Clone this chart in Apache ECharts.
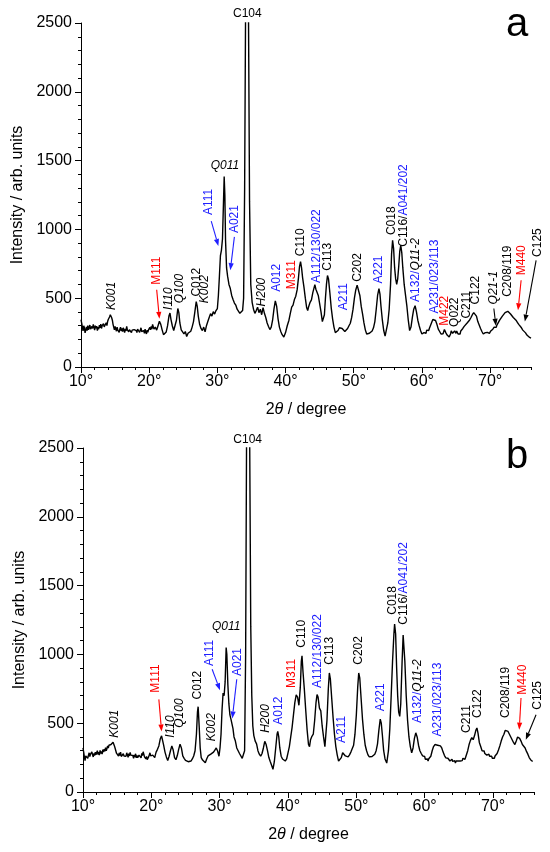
<!DOCTYPE html>
<html>
<head>
<meta charset="utf-8">
<title>XRD patterns a / b</title>
<script src="https://cdn.jsdelivr.net/npm/echarts@6/dist/echarts.min.js"></script>
<style>
  html, body { margin: 0; padding: 0; background: #fff; }
  #chart { width: 550px; height: 852px; }
</style>
</head>
<body>
<div id="chart"></div>
<script>
const FONT = '"Liberation Sans", Arial, Helvetica, sans-serif';
const BLUE = '#2020ff';
const RED = '#ff0000';

// x tick labels (2θ, degrees)
const xTicks = [10, 20, 30, 40, 50, 60, 70];

// pattern a: [2θ, intensity]
const scanA = [
  [10.0,345],[10.1,318],[10.2,290],[10.3,262],[10.4,300],[10.5,285],[10.6,248],[10.7,270],[10.8,292],[10.9,265],
  [11.0,300],[11.1,270],[11.2,285],[11.3,305],[11.4,275],[11.5,262],[11.6,295],[11.7,280],[11.8,310],[11.9,290],
  [12.0,268],[12.1,300],[12.2,282],[12.3,298],[12.4,265],[12.5,290],[12.6,275],[12.7,305],[12.8,285],[12.9,312],
  [13.0,280],[13.1,300],[13.2,288],[13.3,315],[13.4,292],[13.5,305],[13.6,285],[13.7,322],[13.8,300],[13.9,330],
  [14.0,345],[14.1,352],[14.2,365],[14.3,380],[14.4,372],[14.5,358],[14.6,340],[14.7,310],[14.8,290],[14.9,270],
  [15.0,295],[15.1,282],[15.2,260],[15.3,290],[15.4,268],[15.5,280],[15.6,252],[15.7,275],[15.8,290],[15.9,262],
  [16.0,280],[16.1,258],[16.2,285],[16.3,268],[16.4,250],[16.5,278],[16.6,262],[16.7,295],[16.8,270],[16.9,282],
  [17.0,255],[17.1,272],[17.2,260],[17.3,285],[17.4,250],[17.5,268],[17.6,278],[17.7,255],[17.8,272],[17.9,260],
  [18.0,285],[18.1,265],[18.2,250],[18.3,275],[18.4,262],[18.5,280],[18.6,252],[18.7,268],[18.8,285],[18.9,258],
  [19.0,272],[19.1,250],[19.2,265],[19.3,245],[19.4,275],[19.5,255],[19.6,240],[19.7,268],[19.8,252],[19.9,270],
  [20.0,260],[20.1,288],[20.2,270],[20.3,295],[20.4,275],[20.5,310],[20.7,275],[20.9,290],[21.1,268],[21.3,300],
  [21.5,332],[21.7,310],[21.9,270],[22.1,235],[22.3,222],[22.5,255],[22.7,300],[22.9,370],[23.05,392],[23.2,345],
  [23.4,298],[23.6,265],[23.8,275],[24.0,340],[24.2,425],[24.35,395],[24.5,320],[24.7,270],[24.9,255],[25.1,240],
  [25.3,258],[25.5,222],[25.7,245],[25.9,232],[26.1,260],[26.3,290],[26.5,330],[26.7,400],[26.9,475],[27.05,440],
  [27.2,370],[27.4,310],[27.6,280],[27.8,265],[28.0,290],[28.2,255],[28.4,300],[28.6,330],[28.8,360],[29.0,388],
  [29.2,370],[29.4,402],[29.6,385],[29.8,410],[30.0,425],[30.15,520],[30.3,660],[30.45,810],[30.6,850],[30.75,930],
  [30.9,1200],[31.0,1385],[31.1,1250],[31.2,920],[31.35,720],[31.5,660],[31.7,600],[31.9,570],[32.1,520],[32.3,490],
  [32.5,465],[32.7,450],[32.9,420],[33.1,412],[33.3,390],[33.5,378],[33.7,410],[33.85,500],[34.0,1300],[34.15,2700],
  [34.35,5200],[34.55,2700],[34.72,1200],[34.9,600],[35.1,470],[35.3,420],[35.5,390],[35.7,410],[35.9,435],[36.1,395],
  [36.3,420],[36.5,380],[36.7,432],[36.9,390],[37.1,360],[37.3,320],[37.5,295],[37.7,272],[37.9,290],[38.1,340],
  [38.3,420],[38.5,480],[38.7,440],[38.9,350],[39.1,290],[39.3,258],[39.5,235],[39.75,218],[40.0,250],[40.25,300],
  [40.5,340],[40.7,390],[40.9,435],[41.1,450],[41.3,490],[41.5,515],[41.7,560],[41.9,650],[42.05,730],[42.2,765],
  [42.35,720],[42.5,650],[42.7,580],[42.9,500],[43.1,430],[43.25,410],[43.4,440],[43.6,470],[43.8,488],[44.0,540],
  [44.15,570],[44.3,598],[44.45,565],[44.6,560],[44.8,520],[45.0,460],[45.2,400],[45.4,330],[45.55,318],[45.7,380],
  [45.85,500],[46.0,600],[46.15,665],[46.3,640],[46.5,540],[46.7,430],[46.9,350],[47.1,290],[47.3,250],[47.5,240],
  [47.7,265],[47.9,285],[48.1,295],[48.3,280],[48.5,270],[48.7,258],[48.9,262],[49.1,280],[49.3,300],[49.5,318],
  [49.7,360],[49.9,420],[50.1,500],[50.3,560],[50.5,595],[50.7,585],[50.9,520],[51.1,440],[51.3,385],[51.5,320],
  [51.7,270],[51.9,240],[52.1,232],[52.3,245],[52.5,250],[52.7,262],[52.9,285],[53.1,330],[53.3,420],[53.5,520],
  [53.7,570],[53.85,530],[54.0,440],[54.2,340],[54.4,265],[54.6,225],[54.8,235],[55.0,320],[55.2,420],[55.4,600],
  [55.55,820],[55.7,920],[55.85,860],[56.0,720],[56.15,640],[56.3,600],[56.45,640],[56.6,730],[56.75,840],[56.9,885],
  [57.05,830],[57.2,720],[57.4,600],[57.6,520],[57.8,440],[58.0,340],[58.2,265],[58.4,290],[58.6,360],[58.8,420],
  [59.0,445],[59.2,400],[59.4,340],[59.6,300],[59.8,265],[60.0,240],[60.1,252],[60.2,232],[60.3,250],[60.4,238],
  [60.5,258],[60.6,245],[60.7,268],[60.8,255],[60.9,275],[61.0,265],[61.1,282],[61.2,290],[61.4,320],[61.6,345],
  [61.8,355],[62.0,338],[62.2,310],[62.4,275],[62.5,285],[62.6,258],[62.7,250],[62.8,240],[62.9,245],[63.0,228],
  [63.1,242],[63.2,250],[63.3,272],[63.4,265],[63.5,250],[63.6,245],[63.7,232],[63.8,225],[63.9,235],[64.0,218],
  [64.1,232],[64.2,240],[64.3,262],[64.4,250],[64.5,245],[64.6,258],[64.7,240],[64.8,262],[64.9,250],[65.0,245],
  [65.1,262],[65.2,252],[65.3,240],[65.4,232],[65.5,248],[65.6,240],[65.7,262],[65.8,255],[65.9,272],[66.0,280],
  [66.2,295],[66.4,288],[66.6,318],[66.8,330],[67.0,342],[67.2,360],[67.4,380],[67.6,395],[67.8,402],[68.0,370],
  [68.2,330],[68.4,305],[68.6,280],[68.8,258],[68.9,268],[69.0,240],[69.1,252],[69.2,232],[69.3,250],[69.4,245],
  [69.5,238],[69.6,252],[69.7,240],[69.8,256],[69.9,245],[70.0,242],[70.1,262],[70.2,255],[70.3,272],[70.4,275],
  [70.5,262],[70.6,290],[70.7,280],[70.8,295],[70.9,288],[71.0,305],[71.2,318],[71.4,340],[71.6,352],[71.8,370],
  [72.0,382],[72.2,395],[72.4,400],[72.6,405],[72.8,395],[73.0,385],[73.2,372],[73.4,360],[73.6,352],[73.8,340],
  [74.0,325],[74.2,310],[74.4,300],[74.6,285],[74.8,268],[75.0,255],[75.2,248],[75.4,232],[75.6,222],[75.8,215],
  [76.0,210]
];

// pattern b: [2θ, intensity]
const scanB = [
  [10.0,320],[10.1,290],[10.2,255],[10.3,228],[10.4,262],[10.5,250],[10.6,275],[10.7,245],[10.8,268],[10.9,285],
  [11.0,258],[11.1,275],[11.2,262],[11.3,292],[11.4,270],[11.5,255],[11.6,280],[11.7,265],[11.8,290],[11.9,270],
  [12.0,285],[12.1,300],[12.2,272],[12.3,290],[12.4,268],[12.5,302],[12.6,280],[12.7,295],[12.8,275],[12.9,308],
  [13.0,290],[13.1,312],[13.2,295],[13.3,322],[13.4,300],[13.5,315],[13.6,335],[13.7,320],[13.8,340],[13.9,328],
  [14.0,350],[14.1,345],[14.2,358],[14.3,352],[14.4,362],[14.5,355],[14.6,335],[14.7,318],[14.8,300],[14.9,282],
  [15.0,295],[15.1,272],[15.2,260],[15.3,285],[15.4,265],[15.5,290],[15.6,258],[15.7,272],[15.8,250],[15.9,278],
  [16.0,262],[16.1,248],[16.2,272],[16.3,260],[16.4,285],[16.5,270],[16.6,252],[16.7,278],[16.8,262],[16.9,288],
  [17.0,268],[17.1,255],[17.2,282],[17.3,265],[17.4,245],[17.5,270],[17.6,255],[17.7,278],[17.8,248],[17.9,265],
  [18.0,250],[18.1,240],[18.2,268],[18.3,255],[18.4,272],[18.5,248],[18.6,280],[18.7,265],[18.8,292],[18.9,275],
  [19.0,255],[19.1,268],[19.2,240],[19.3,258],[19.4,235],[19.5,225],[19.6,255],[19.7,270],[19.8,285],[19.9,262],
  [20.0,275],[20.1,250],[20.2,268],[20.3,255],[20.4,278],[20.5,250],[20.6,272],[20.7,290],[20.8,300],[20.9,310],
  [21.1,335],[21.3,385],[21.5,408],[21.65,395],[21.8,340],[22.0,290],[22.2,255],[22.4,228],[22.6,260],[22.8,300],
  [23.0,335],[23.2,305],[23.4,250],[23.6,235],[23.8,265],[24.0,310],[24.2,348],[24.4,320],[24.6,262],[24.8,245],
  [25.0,230],[25.2,238],[25.4,220],[25.6,212],[25.8,225],[26.0,240],[26.2,262],[26.4,300],[26.6,420],[26.75,580],
  [26.85,620],[27.0,480],[27.15,320],[27.3,250],[27.5,232],[27.7,225],[27.9,212],[28.1,240],[28.3,262],[28.5,255],
  [28.7,275],[28.9,268],[29.1,290],[29.3,305],[29.5,320],[29.7,298],[29.9,260],[30.05,320],[30.2,420],[30.35,600],
  [30.5,720],[30.65,700],[30.8,800],[30.95,1050],[31.05,1000],[31.2,780],[31.35,640],[31.5,560],[31.65,530],[31.8,520],
  [31.95,460],[32.1,400],[32.3,370],[32.5,320],[32.7,300],[32.9,280],[33.1,270],[33.3,245],[33.5,235],[33.65,300],
  [33.8,1000],[33.93,2500],[34.17,5500],[34.4,2500],[34.55,1200],[34.7,700],[34.85,480],[35.0,410],[35.2,370],[35.4,350],
  [35.6,300],[35.8,275],[36.0,260],[36.2,280],[36.4,320],[36.6,368],[36.8,345],[37.0,300],[37.2,250],[37.4,222],
  [37.6,195],[37.8,165],[38.0,220],[38.2,320],[38.4,420],[38.5,440],[38.65,400],[38.8,320],[39.0,260],[39.2,240],
  [39.4,250],[39.6,225],[39.8,240],[40.0,285],[40.2,330],[40.4,400],[40.6,470],[40.8,560],[41.0,650],[41.2,705],
  [41.4,690],[41.6,630],[41.8,760],[41.95,950],[42.05,990],[42.2,870],[42.4,740],[42.6,590],[42.8,450],[43.0,345],
  [43.15,330],[43.3,380],[43.5,405],[43.7,420],[43.9,520],[44.1,650],[44.25,708],[44.4,690],[44.6,610],[44.8,590],
  [45.0,480],[45.2,400],[45.4,330],[45.5,320],[45.7,520],[45.9,750],[46.05,865],[46.2,820],[46.4,680],[46.6,540],
  [46.8,420],[47.0,330],[47.2,270],[47.4,225],[47.6,215],[47.8,250],[48.0,285],[48.2,275],[48.4,262],[48.6,272],
  [48.8,255],[49.0,270],[49.2,290],[49.4,300],[49.6,340],[49.8,420],[50.0,560],[50.2,760],[50.35,865],[50.5,830],
  [50.7,680],[50.9,530],[51.1,420],[51.3,340],[51.5,300],[51.7,270],[51.9,255],[52.1,245],[52.3,258],[52.5,265],
  [52.7,275],[52.9,300],[53.1,350],[53.3,450],[53.5,530],[53.65,500],[53.8,420],[54.0,300],[54.2,240],[54.45,210],
  [54.7,300],[54.9,460],[55.1,700],[55.3,950],[55.5,1150],[55.6,1220],[55.75,1150],[55.9,900],[56.05,700],[56.2,580],
  [56.35,550],[56.5,640],[56.7,950],[56.85,1140],[56.95,1150],[57.1,950],[57.3,700],[57.5,520],[57.7,400],[57.9,330],
  [58.1,285],[58.3,320],[58.5,390],[58.7,430],[58.9,400],[59.1,340],[59.3,300],[59.5,280],[59.7,262],[59.9,250],
  [60.0,258],[60.1,238],[60.2,245],[60.3,232],[60.4,240],[60.5,225],[60.6,242],[60.7,235],[60.8,250],[60.9,260],
  [61.1,300],[61.3,330],[61.5,345],[61.7,358],[61.9,340],[62.1,350],[62.3,335],[62.5,320],[62.7,290],[62.9,265],
  [63.0,255],[63.1,248],[63.2,258],[63.3,240],[63.4,245],[63.5,232],[63.6,240],[63.7,225],[63.8,238],[63.9,230],
  [64.0,238],[64.1,222],[64.2,230],[64.3,215],[64.4,228],[64.5,210],[64.6,225],[64.7,218],[64.8,232],[64.9,225],
  [65.0,238],[65.1,232],[65.2,225],[65.3,222],[65.4,235],[65.5,228],[65.6,245],[65.7,240],[65.8,232],[65.9,238],
  [66.0,250],[66.1,245],[66.3,300],[66.5,345],[66.7,375],[66.9,395],[67.1,380],[67.3,410],[67.5,450],[67.65,465],
  [67.8,430],[68.0,360],[68.2,330],[68.4,300],[68.5,305],[68.6,290],[68.7,298],[68.8,280],[68.9,292],[69.0,285],
  [69.1,268],[69.2,272],[69.3,282],[69.4,275],[69.5,260],[69.6,265],[69.7,255],[69.8,260],[69.9,245],[70.0,250],
  [70.1,258],[70.2,245],[70.3,262],[70.4,255],[70.6,280],[70.8,305],[71.0,335],[71.2,370],[71.4,400],[71.6,420],
  [71.8,448],[72.0,455],[72.2,440],[72.4,420],[72.6,400],[72.8,380],[73.0,360],[73.2,345],[73.4,370],[73.6,400],
  [73.75,410],[73.9,390],[74.1,370],[74.3,345],[74.5,340],[74.7,320],[74.9,295],[75.1,275],[75.3,250],[75.5,235],
  [75.7,228],[75.8,222]
];

// peak labels, vertical text: [label, 2θ, intensity at foot of label]
// {k|} black, {i|} black italic, {b|} blue, {r|} red
const peaksA = [
  ['{i|K001}', 14.5, 415], ['{r|M111}', 21.1, 598], ['{i|I110}', 22.85, 415], ['{i|Q100}', 24.4, 464],
  ['{k|C012}', 26.9, 512], ['{i|K002}', 28.1, 464], ['{b|A111}', 28.8, 1104], ['{b|A021}', 32.5, 973],
  ['{i|H200}', 36.5, 440], ['{b|A012}', 38.65, 546], ['{r|M311}', 40.85, 565], ['{k|C110}', 42.2, 805],
  ['{b|A112/130/022}', 44.55, 610], ['{k|C113}', 46.2, 700], ['{b|A211}', 48.5, 413], ['{k|C202}', 50.6, 619],
  ['{b|A221}', 53.7, 607], ['{k|C018}', 55.5, 959], ['{k|C116/}{b|A041/202}', 57.3, 874],
  ['{b|A132/}{i|Q11-2}', 59.05, 473], ['{b|A231/023/113}', 61.85, 389], ['{r|M422}', 63.35, 300],
  ['{k|Q022}', 64.85, 291], ['{k|C211}', 66.6, 352], ['{k|C122}', 67.95, 455], ['{i|Q21-1}', 70.45, 455],
  ['{k|C208/119}', 72.6, 510], ['{r|M440}', 74.65, 667], ['{k|C125}', 77.0, 800]
];
const peaksB = [
  ['{i|K001}', 14.6, 394], ['{r|M111}', 20.7, 722], ['{i|I110}', 22.8, 394], ['{i|Q100}', 24.15, 467],
  ['{k|C012}', 26.8, 673], ['{i|K002}', 28.9, 369], ['{b|A111}', 28.5, 916], ['{b|A021}', 32.7, 843],
  ['{i|H200}', 36.7, 430], ['{b|A012}', 38.65, 489], ['{r|M311}', 40.5, 756], ['{k|C110}', 42.0, 1049],
  ['{b|A112/130/022}', 44.35, 756], ['{k|C113}', 46.1, 925], ['{b|A211}', 47.9, 356], ['{k|C202}', 50.35, 925],
  ['{b|A221}', 53.6, 586], ['{k|C018}', 55.3, 1288], ['{k|C116/}{b|A041/202}', 57.0, 1216],
  ['{b|A132/}{i|Q11-2}', 58.98, 501], ['{b|A231/023/113}', 61.9, 404], ['{k|C211}', 66.1, 429],
  ['{k|C122}', 67.75, 538], ['{k|C208/119}', 71.9, 538], ['{r|M440}', 74.3, 707], ['{k|C125}', 76.5, 598]
];

// horizontal labels: [label, 2θ, intensity at text centre]
const topA = [['{k|C104}', 34.4, 2568], ['{i|Q011}', 31.1, 1463]];
const topB = [['{k|C104}', 34.1, 2560], ['{i|Q011}', 30.96, 1203]];

// arrows: [from 2θ, from I, to 2θ, to I, colour]
const arrowsA = [
  [21.1, 561, 21.5, 350, RED], [29.1, 1060, 30.15, 880, BLUE], [32.5, 946, 31.9, 704, BLUE],
  [70.55, 425, 70.85, 300, '#000'], [74.55, 630, 74.1, 413, RED], [76.75, 775, 75.1, 330, '#000']
];
const arrowsB = [
  [21.1, 673, 21.5, 440, RED], [28.9, 892, 30.05, 740, BLUE], [32.5, 819, 31.85, 535, BLUE],
  [74.1, 683, 73.84, 453, RED], [76.3, 562, 74.8, 380, '#000']
];

const RICH = {
  k: { fill: '#000', fontSize: 12, fontFamily: FONT },
  i: { fill: '#000', fontSize: 12, fontFamily: FONT, fontStyle: 'italic' },
  b: { fill: BLUE, fontSize: 12, fontFamily: FONT },
  r: { fill: RED, fontSize: 12, fontFamily: FONT }
};

const grids = [
  { left: 81, top: 23, width: 450, height: 344 },
  { left: 83, top: 448, width: 451, height: 344 }
];
const scans = [scanA, scanB];

const chart = echarts.init(document.getElementById('chart'), null, { renderer: 'canvas' });

const xAxis = [];
const yAxis = [];
const series = [];
grids.forEach((g, i) => {
  // minor ticks every 2° and the labels
  xAxis.push({
    gridIndex: i, type: 'value', min: 10, max: 76, interval: 2, position: 'bottom',
    axisLine: { show: true, onZero: false, lineStyle: { color: '#000', width: 1 } },
    axisTick: { show: true, length: 3, lineStyle: { color: '#000', width: 1 } },
    axisLabel: {
      color: '#000', fontSize: 16, fontFamily: FONT, margin: 7,
      formatter: v => (xTicks.includes(v) ? v + '°' : '')
    },
    splitLine: { show: false },
    name: '2{t|θ} / degree', nameLocation: 'middle', nameGap: 35,
    nameTextStyle: {
      color: '#000', fontSize: 16, fontFamily: FONT,
      rich: { t: { color: '#000', fontSize: 16, fontFamily: FONT, fontStyle: 'italic' } }
    }
  });
  // major ticks every 10°
  xAxis.push({
    gridIndex: i, type: 'value', min: 10, max: 76, interval: 10, position: 'bottom',
    axisLine: { show: false, onZero: false },
    axisTick: { show: true, length: 6, customValues: xTicks, lineStyle: { color: '#000', width: 1 } },
    axisLabel: { show: false },
    splitLine: { show: false }
  });
  yAxis.push({
    gridIndex: i, type: 'value', min: 0, max: 2500, interval: 500,
    axisLine: { show: true, lineStyle: { color: '#000', width: 1 } },
    axisTick: { show: true, length: 6, lineStyle: { color: '#000', width: 1 } },
    minorTick: { show: true, splitNumber: 5, length: 3, lineStyle: { color: '#000', width: 1 } },
    axisLabel: { color: '#000', fontSize: 16, fontFamily: FONT, margin: 9, formatter: v => String(v) },
    splitLine: { show: false },
    name: 'Intensity / arb. units', nameLocation: 'middle', nameGap: 55,
    nameTextStyle: { color: '#000', fontSize: 16, fontFamily: FONT }
  });
  series.push({
    type: 'line', xAxisIndex: i * 2, yAxisIndex: i, data: scans[i],
    showSymbol: false, symbol: 'none', clip: true, silent: true,
    lineStyle: { color: '#000', width: 1.4 }
  });
});

chart.setOption({
  animation: false,
  backgroundColor: '#fff',
  grid: grids,
  xAxis,
  yAxis,
  series
});

// annotations placed through the axes of each panel
const toPx = (i, x, y) => chart.convertToPixel({ seriesIndex: i }, [x, y]);
const gfx = [];

function vLabel(i, [text, x, y]) {
  const p = toPx(i, x, y);
  gfx.push({
    type: 'text', x: p[0], y: p[1], rotation: Math.PI / 2, silent: true,
    style: {
      text, rich: RICH, fill: '#000', fontSize: 12, fontFamily: FONT,
      align: 'left', verticalAlign: 'middle', textAlign: 'left', textVerticalAlign: 'middle'
    }
  });
}

function hLabel(i, [text, x, y]) {
  const p = toPx(i, x, y);
  gfx.push({
    type: 'text', x: p[0], y: p[1], silent: true,
    style: {
      text, rich: RICH, fill: '#000', fontSize: 12, fontFamily: FONT,
      align: 'center', verticalAlign: 'middle', textAlign: 'center', textVerticalAlign: 'middle'
    }
  });
}

function arrow(i, [x0, y0, x1, y1, color]) {
  const a = toPx(i, x0, y0);
  const b = toPx(i, x1, y1);
  const ang = Math.atan2(b[1] - a[1], b[0] - a[0]);
  const len = 7, half = 2.6;
  const bx = b[0] - len * Math.cos(ang);
  const by = b[1] - len * Math.sin(ang);
  gfx.push({
    type: 'line', silent: true,
    shape: { x1: a[0], y1: a[1], x2: bx, y2: by },
    style: { stroke: color, lineWidth: 1.1 }
  });
  gfx.push({
    type: 'polygon', silent: true,
    shape: { points: [
      [b[0], b[1]],
      [bx + half * Math.sin(ang), by - half * Math.cos(ang)],
      [bx - half * Math.sin(ang), by + half * Math.cos(ang)]
    ] },
    style: { fill: color }
  });
}

[peaksA, peaksB].forEach((list, i) => list.forEach(l => vLabel(i, l)));
[topA, topB].forEach((list, i) => list.forEach(l => hLabel(i, l)));
[arrowsA, arrowsB].forEach((list, i) => list.forEach(a => arrow(i, a)));

// panel letters
[['a', 25], ['b', 457]].forEach(([t, y]) => {
  gfx.push({
    type: 'text', x: 506, y, silent: true,
    style: { text: t, fill: '#000', fontSize: 40, fontFamily: FONT,
      align: 'left', verticalAlign: 'middle', textAlign: 'left', textVerticalAlign: 'middle' }
  });
});

chart.setOption({ graphic: { elements: gfx } });
</script>
</body>
</html>
